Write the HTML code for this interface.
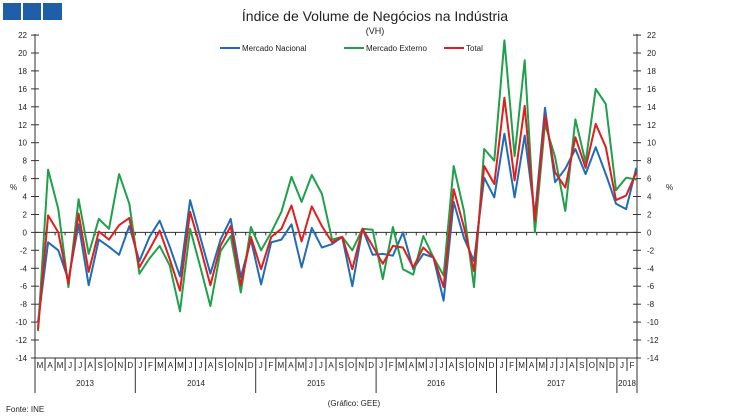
<!DOCTYPE html>
<html><head><meta charset="utf-8"><style>
html,body{margin:0;padding:0;background:#fff;width:750px;height:418px;overflow:hidden}
svg{display:block;font-family:"Liberation Sans",sans-serif}
</style></head><body>
<svg id="c" width="750" height="418" viewBox="0 0 750 418" xmlns="http://www.w3.org/2000/svg">
<rect x="3" y="3" width="18" height="17" fill="#1f5fa8"/>
<rect x="23" y="3" width="18" height="17" fill="#1f5fa8"/>
<rect x="43" y="3" width="19" height="17" fill="#1f5fa8"/>
<text x="375" y="21" font-size="14" text-anchor="middle" fill="#222">Índice de Volume de Negócios na Indústria</text>
<text x="375" y="34" font-size="9" text-anchor="middle" fill="#222">(VH)</text>
<g font-size="8" fill="#222">
<line x1="220" y1="48" x2="240" y2="48" stroke="#1f6db5" stroke-width="2"/><text x="242" y="51">Mercado Nacional</text>
<line x1="344" y1="48" x2="364" y2="48" stroke="#1fa04a" stroke-width="2"/><text x="366" y="51">Mercado Externo</text>
<line x1="444" y1="48" x2="464" y2="48" stroke="#e01e1e" stroke-width="2"/><text x="466" y="51">Total</text>
</g>
<text x="10" y="190" font-size="8" fill="#222">%</text>
<text x="666" y="190" font-size="8" fill="#222">%</text>
<text x="6" y="412" font-size="8" fill="#222">Fonte: INE</text>
<text x="354" y="406" font-size="8" fill="#222" text-anchor="middle">(Gráfico: GEE)</text>
<g id="g"></g>
</svg>
<script>
var B=[-10,-1.1,-2.0,-5.3,0.9,-5.9,-0.8,-1.6,-2.5,0.7,-3.2,-0.5,1.3,-1.6,-4.9,3.6,-0.5,-4.6,-0.8,1.5,-5.0,-0.8,-5.8,-1.1,-0.8,0.9,-3.9,0.5,-1.7,-1.3,-0.5,-6.0,0.4,-2.5,-2.4,-2.6,0,-4.1,-2.4,-2.8,-7.6,3.4,-0.6,-3.2,6.1,3.9,11.0,3.9,10.8,1.9,13.9,5.6,7.1,9.3,6.5,9.5,6.5,3.2,2.6,7.2];
var G=[-11,7,2.6,-6.1,3.7,-2.4,1.5,0.4,6.5,3.2,-4.6,-2.9,-1.5,-3.7,-8.8,0.4,-3.8,-8.2,-2.1,-0.4,-6.7,0.6,-2.0,0,2.3,6.2,3.4,6.4,4.3,-0.8,-0.5,-2.0,0.4,0.3,-5.2,0.6,-4.1,-4.7,-0.4,-2.8,-4.8,7.4,2.4,-6.1,9.3,8.0,21.4,8.5,19.2,0,12.1,8.4,2.4,12.6,7.8,16.0,14.3,4.7,6.1,5.9];
var R=[-10.8,1.9,0,-5.7,2.1,-4.4,0.1,-0.8,0.8,1.6,-3.9,-1.9,0.2,-3.0,-6.5,2.3,-1.6,-5.9,-1.5,0.7,-5.9,-0.5,-4.1,-0.5,0.4,3.0,-1.0,2.9,0.7,-1.1,-0.5,-4.1,0.4,-1.5,-3.5,-1.5,-1.7,-3.9,-1.7,-2.8,-6.1,4.8,0.6,-4.3,7.4,5.4,15.0,5.8,14.1,1.3,13.0,6.7,5.0,10.6,7.2,12.1,9.5,3.6,4.1,6.7];
function Y(v){return 232.4-8.97*v}
var s='',L=35,Rx=637,x0=38,dx=10.14,cw=(Rx-L)/60;
s+='<line x1="'+L+'" y1="34" x2="'+L+'" y2="358" stroke="#333" stroke-width="1"/>';
s+='<line x1="'+Rx+'" y1="34" x2="'+Rx+'" y2="358" stroke="#333" stroke-width="1"/>';
for(var v=-14;v<=22;v+=2){var y=Y(v).toFixed(1);
s+='<line x1="31" y1="'+y+'" x2="39" y2="'+y+'" stroke="#333"/><line x1="633" y1="'+y+'" x2="641" y2="'+y+'" stroke="#333"/>';
s+='<text x="27" y="'+(+y+3)+'" font-size="8" text-anchor="end" fill="#222">'+v+'</text>';
s+='<text x="647" y="'+(+y+3)+'" font-size="8" fill="#222">'+v+'</text>';}
var z=Y(0).toFixed(1);
s+='<line x1="'+L+'" y1="'+z+'" x2="'+Rx+'" y2="'+z+'" stroke="#333"/>';
var M="MAMJJASONDJFMAMJJASONDJFMAMJJASONDJFMAMJJASONDJFMAMJJASONDJF";
s+='<line x1="'+L+'" y1="358" x2="'+Rx+'" y2="358" stroke="#333"/>';
for(var i=0;i<=60;i++){var x=(L+cw*i).toFixed(1);
s+='<line x1="'+x+'" y1="'+z+'" x2="'+x+'" y2="'+(+z+3)+'" stroke="#333"/>';
var yr=(i==10||i==22||i==34||i==46||i==58||i==0||i==60);
s+='<line x1="'+x+'" y1="358" x2="'+x+'" y2="'+(yr?393:371)+'" stroke="#333"/>';
if(i<60)s+='<text x="'+(L+cw*(i+0.5)).toFixed(1)+'" y="368" font-size="8" text-anchor="middle" fill="#222">'+M[i]+'</text>';}
var yrs=[[85,"2013"],[196,"2014"],[316,"2015"],[436,"2016"],[556,"2017"],[627,"2018"]];
yrs.forEach(function(a){s+='<text x="'+a[0]+'" y="386" font-size="8" text-anchor="middle" fill="#222">'+a[1]+'</text>'});
function pl(d,c){var p=d.map(function(v,k){return (x0+dx*k).toFixed(1)+','+Y(v).toFixed(1)}).join(' ');
return '<polyline points="'+p+'" fill="none" stroke="'+c+'" stroke-width="2" stroke-linejoin="round"/>'}
s+=pl(B,"#1f6db5")+pl(G,"#1fa04a")+pl(R,"#e01e1e");
document.getElementById('g').innerHTML=s;
</script>
</body></html>
